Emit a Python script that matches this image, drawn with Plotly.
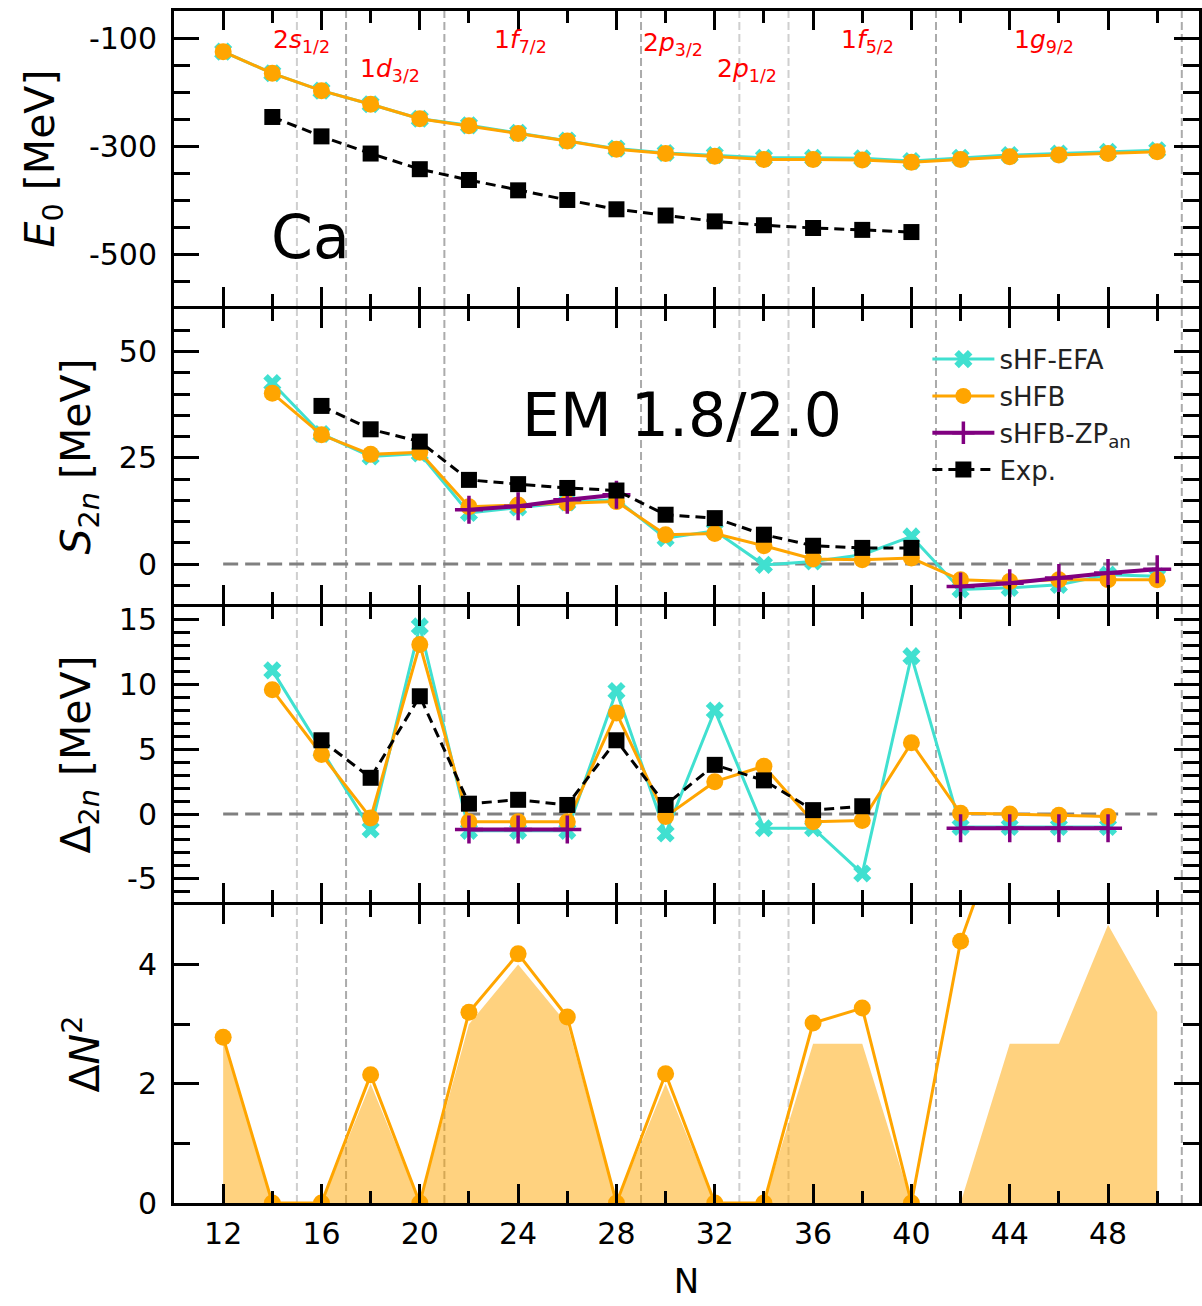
import plotly.graph_objects as go
from plotly.subplots import make_subplots

# ---------------- data ----------------
N = [12, 14, 16, 18, 20, 22, 24, 26, 28, 30, 32, 34, 36, 38, 40, 42, 44, 46, 48, 50]

# Panel 1: ground-state energy E0 [MeV]
E0_efa = [-125, -165, -197, -222, -249, -261, -275, -289, -304, -312, -316, -321, -321, -322, -327, -321, -316, -313, -310, -307]
E0_hfb = [-125, -165, -197, -222, -249, -262, -276, -290, -305, -313, -318, -324, -324, -325, -329, -324, -319, -316, -313, -310]
N_exp_E = [14, 16, 18, 20, 22, 24, 26, 28, 30, 32, 34, 36, 38, 40]
E0_exp = [-245.6, -281.4, -313.1, -342.0, -361.9, -381.0, -398.8, -416.0, -427.5, -438.3, -445.4, -450.5, -454.0, -458.0]

# Panel 2: two-neutron separation energy S2n [MeV]
N_s2n = [14, 16, 18, 20, 22, 24, 26, 28, 30, 32, 34, 36, 38, 40, 42, 44, 46, 48, 50]
S2n_efa = [42.6, 30.6, 25.3, 26.0, 12.0, 13.3, 14.5, 15.2, 6.1, 7.8, -0.2, 0.6, 2.2, 6.5, -6.0, -5.6, -4.9, -2.5, -2.9]
S2n_hfb = [40.2, 30.4, 25.8, 26.3, 13.5, 13.9, 14.3, 14.7, 6.9, 7.2, 4.3, 1.2, 1.0, 1.4, -3.7, -4.1, -3.7, -3.7, -3.7]
S2n_zp = [None, None, None, None, 12.8, 13.6, 15.1, 16.3, None, None, None, None, None, None, -5.3, -4.5, -3.3, -2.1, -1.2]
N_exp_S = [16, 18, 20, 22, 24, 26, 28, 30, 32, 34, 36, 38, 40]
S2n_exp = [37.2, 31.7, 28.8, 19.8, 18.8, 17.9, 17.3, 11.6, 10.8, 6.9, 4.3, 3.8, 3.8]

# Panel 3: pairing gap Delta_2n [MeV]
N_d = [14, 16, 18, 20, 22, 24, 26, 28, 30, 32, 34, 36, 38, 40, 42, 44, 46, 48]
D2n_efa = [11.1, 4.9, -1.2, 14.5, -1.3, -1.3, -1.3, 9.5, -1.5, 8.0, -1.1, -1.1, -4.6, 12.2, -1.0, -1.0, -1.0, -1.0]
D2n_hfb = [9.6, 4.6, -0.3, 13.1, -0.6, -0.6, -0.6, 7.8, -0.2, 2.5, 3.7, -0.6, -0.5, 5.5, 0.05, 0.0, -0.1, -0.2]
D2n_zp = [None, None, None, None, -1.2, -1.2, -1.2, None, None, None, None, None, None, None, -1.1, -1.1, -1.1, -1.1]
N_exp_D = [16, 18, 20, 22, 24, 26, 28, 30, 32, 34, 36, 38]
D2n_exp = [5.7, 2.8, 9.1, 0.8, 1.1, 0.7, 5.7, 0.7, 3.8, 2.6, 0.3, 0.6]

# Panel 4: particle-number fluctuation Delta N^2
N_dn = [12, 14, 16, 18, 20, 22, 24, 26, 28, 30, 32, 34, 36, 38, 40, 42, 44]
DN2_hfb = [2.78, 0, 0, 2.15, 0, 3.2, 4.18, 3.12, 0, 2.17, 0, 0, 3.02, 3.27, 0, 4.39, 6.7]
DN2_fill = [2.75, 0, 0, 2.0, 0, 3.0, 4.0, 3.0, 0, 2.0, 0, 0, 2.67, 2.67, 0, 0, 2.67, 2.67, 4.67, 3.2]

# Shell gaps (vertical guides) and shell labels
shell_light = [15, 33, 35]
shell_dark = [17, 21, 29, 41, 51]
shell_lbl_x = [15.2, 18.8, 24.1, 30.3, 33.3, 38.2, 45.4]
shell_lbl_y = [-106, -158, -106, -110, -158, -106, -106]
shell_lbl = ["2<i>s</i><sub>1/2</sub>", "1<i>d</i><sub>3/2</sub>", "1<i>f</i><sub>7/2</sub>",
             "2<i>p</i><sub>3/2</sub>", "2<i>p</i><sub>1/2</sub>", "1<i>f</i><sub>5/2</sub>",
             "1<i>g</i><sub>9/2</sub>"]

# ---------------- styles ----------------
CYAN = "#40E0D0"
ORANGE = "#FFA500"
PURPLE = "#800080"
FONT = "DejaVu Sans"

fig = make_subplots(rows=4, cols=1, shared_xaxes=True, vertical_spacing=0)

def efa(x, y, row, legend=False):
    fig.add_trace(go.Scatter(x=x, y=y, mode="lines+markers", name="sHF-EFA", showlegend=legend,
                             line=dict(color=CYAN, width=3),
                             marker=dict(symbol="x", size=16, color=CYAN)), row=row, col=1)

def hfb(x, y, row, legend=False):
    fig.add_trace(go.Scatter(x=x, y=y, mode="lines+markers", name="sHFB", showlegend=legend,
                             line=dict(color=ORANGE, width=3),
                             marker=dict(symbol="circle", size=17, color=ORANGE)), row=row, col=1)

def zp(x, y, row, legend=False):
    fig.add_trace(go.Scatter(x=x, y=y, mode="lines+markers", name="sHFB-ZP<sub>an</sub>", showlegend=legend,
                             connectgaps=False,
                             line=dict(color=PURPLE, width=4),
                             marker=dict(symbol="cross-thin", size=20, color=PURPLE,
                                         line=dict(color=PURPLE, width=3.5))), row=row, col=1)

def exp(x, y, row, legend=False):
    fig.add_trace(go.Scatter(x=x, y=y, mode="lines+markers", name="Exp.", showlegend=legend,
                             line=dict(color="black", width=3, dash="10px,6px"),
                             marker=dict(symbol="square", size=16, color="black")), row=row, col=1)

# Panel 1
efa(N, E0_efa, 1)
hfb(N, E0_hfb, 1)
exp(N_exp_E, E0_exp, 1)
# Panel 2
efa(N_s2n, S2n_efa, 2, True)
hfb(N_s2n, S2n_hfb, 2, True)
zp(N_s2n, S2n_zp, 2, True)
exp(N_exp_S, S2n_exp, 2, True)
# Panel 3
efa(N_d, D2n_efa, 3)
hfb(N_d, D2n_hfb, 3)
zp(N_d, D2n_zp, 3)
exp(N_exp_D, D2n_exp, 3)
# Panel 4
fig.add_trace(go.Scatter(x=N, y=DN2_fill, mode="lines", fill="tozeroy", showlegend=False,
                         name="ΔN² band", line=dict(width=0, color="rgba(255,165,0,0)"),
                         fillcolor="rgba(255,165,0,0.5)"), row=4, col=1)
hfb(N_dn, DN2_hfb, 4)

# vertical shell-gap guides (one per panel, spanning the panel height)
yranges = {1: (-594.5, -50), 2: (-9.4, 60), 3: (-6.8, 16), 4: (0, 5)}
for xv in shell_light + shell_dark:
    col = "#cfcfcf" if xv in shell_light else "#ababab"
    for r in range(1, 5):
        sfx = "" if r == 1 else str(r)
        fig.add_shape(type="line", x0=xv, x1=xv, y0=0, y1=1, xref="x" + sfx, yref="y" + sfx + " domain",
                      line=dict(color=col, width=2, dash="8px,4px"), layer="below")

# zero reference lines
for r in (2, 3):
    fig.add_shape(type="line", x0=12, x1=50, y0=0, y1=0, xref="x%d" % r, yref="y%d" % r,
                  line=dict(color="#808080", width=3, dash="15px,7px"), layer="below")

# ---------------- axes ----------------
LW = 3
xcommon = dict(range=[10, 51.7], tickvals=[12, 16, 20, 24, 28, 32, 36, 40, 44, 48],
               ticks="inside", ticklen=19, tickwidth=3, tickcolor="black",
               minor=dict(dtick=2, tick0=0, ticks="inside", ticklen=12, tickwidth=2.5, tickcolor="black"),
               showline=True, linecolor="black", linewidth=LW, mirror="allticks",
               showgrid=False, zeroline=False,
               tickfont=dict(family=FONT, size=30, color="black"))
for r in range(1, 5):
    fig.update_xaxes(**xcommon, row=r, col=1)
fig.update_xaxes(title=dict(text="N", font=dict(family=FONT, size=34, color="black"), standoff=20),
                 ticklabelstandoff=2, row=4, col=1)

ycommon = dict(ticks="inside", ticklen=25, tickwidth=3, tickcolor="black",
               showline=True, linecolor="black", linewidth=LW, mirror="allticks",
               showgrid=False, zeroline=False, ticklabelstandoff=8,
               tickfont=dict(family=FONT, size=30, color="black"))
tfont = dict(family=FONT, size=41, color="black")
fig.update_yaxes(**ycommon, range=list(yranges[1]),
                 tickvals=[-100, -300, -500], ticktext=["-100", "-300", "-500"],
                 minor=dict(dtick=50, tick0=0, ticks="inside", ticklen=16, tickwidth=2.5, tickcolor="black"),
                 title=dict(text="<i>E</i><sub>0</sub> [MeV]", font=tfont, standoff=22), row=1, col=1)
fig.update_yaxes(**ycommon, range=list(yranges[2]), tickvals=[0, 25, 50], ticktext=["0", "25", "50"],
                 minor=dict(dtick=5, tick0=0, ticks="inside", ticklen=16, tickwidth=2.5, tickcolor="black"),
                 title=dict(text="<i>S</i><sub>2<i>n</i></sub> [MeV]", font=tfont, standoff=16), row=2, col=1)
fig.update_yaxes(**ycommon, range=list(yranges[3]), tickvals=[-5, 0, 5, 10, 15], ticktext=["-5", "0", "5", "10", "15"],
                 minor=dict(dtick=1, tick0=0, ticks="inside", ticklen=16, tickwidth=2.5, tickcolor="black"),
                 title=dict(text="Δ<sub>2<i>n</i></sub> [MeV]", font=tfont, standoff=16), row=3, col=1)
fig.update_yaxes(**ycommon, range=list(yranges[4]), tickvals=[0, 2, 4], ticktext=["0", "2", "4"],
                 minor=dict(dtick=1, tick0=0, ticks="inside", ticklen=16, tickwidth=2.5, tickcolor="black"),
                 title=dict(text="Δ<i>N</i><sup>2</sup>", font=tfont, standoff=26), row=4, col=1)

# stacked panels: axis lines are drawn outside each panel, so leave a gap equal to
# the line width between panels; the two borders then fall on the same pixels
H_PLOT = 1306 - 11 - 103
d = LW / H_PLOT
fig.update_layout(yaxis=dict(domain=[0.75 + d, 1.0]),
                  yaxis2=dict(domain=[0.5 + d, 0.75]),
                  yaxis3=dict(domain=[0.25 + d, 0.5]),
                  yaxis4=dict(domain=[0.0, 0.25]))

# ---------------- annotations ----------------
for xv, yv, t in zip(shell_lbl_x, shell_lbl_y, shell_lbl):
    fig.add_annotation(x=xv, y=yv, xref="x", yref="y", text=t, showarrow=False,
                       font=dict(family=FONT, size=25, color="red"))
fig.add_annotation(x=15.55, y=-467, xref="x", yref="y", text="Ca", showarrow=False,
                   font=dict(family=FONT, size=60, color="black"))
fig.add_annotation(x=30.65, y=35.1, xref="x2", yref="y2", text="EM 1.8/2.0", showarrow=False,
                   font=dict(family=FONT, size=60, color="black"))

fig.update_layout(
    width=1202, height=1306,
    margin=dict(l=174, r=0, t=11, b=103),
    paper_bgcolor="white", plot_bgcolor="rgba(0,0,0,0)",
    font=dict(family=FONT, color="black"),
    legend=dict(x=0.735, y=0.7276, xanchor="left", yanchor="top",
                bgcolor="rgba(0,0,0,0)", font=dict(family=FONT, size=26, color="#222"),
                itemwidth=62, tracegroupgap=0),
)

fig.write_html("out.html")
